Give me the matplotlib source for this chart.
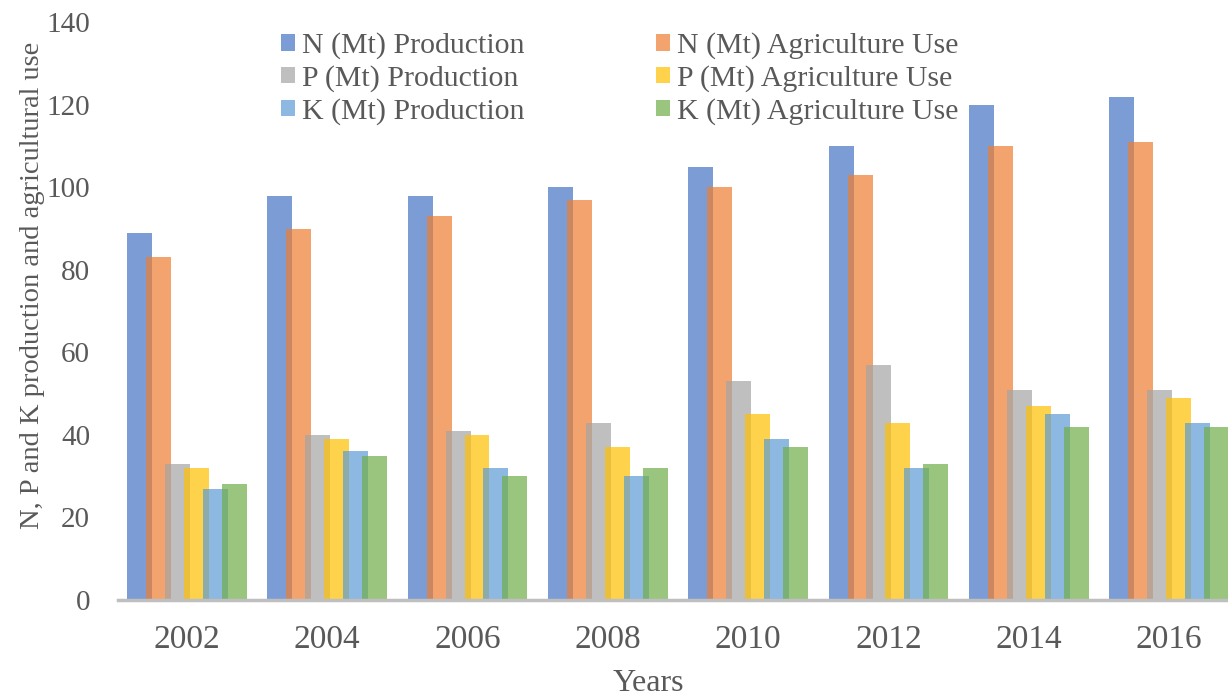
import matplotlib.pyplot as plt
import numpy as np

plt.rcParams['font.family'] = ['Liberation Serif', 'DejaVu Serif']

years = ['2002', '2004', '2006', '2008', '2010', '2012', '2014', '2016']
series = ['N (Mt) Production', 'N (Mt) Agriculture Use',
          'P (Mt) Production', 'P (Mt) Agriculture Use',
          'K (Mt) Production', 'K (Mt) Agriculture Use']
n_prod = [89, 98, 98, 100, 105, 110, 120, 122]
n_use = [83, 90, 93, 97, 100, 103, 110, 111]
p_prod = [33, 40, 41, 43, 53, 57, 51, 51]
p_use = [32, 39, 40, 37, 45, 43, 47, 49]
k_prod = [27, 36, 32, 30, 39, 32, 45, 43]
k_use = [28, 35, 30, 32, 37, 33, 42, 42]
colors = ['#4472C4', '#ED7D31', '#A5A5A5', '#FFC000', '#5B9BD5', '#70AD47']

fig = plt.figure(figsize=(12.28, 6.96), dpi=100)
ax = fig.add_axes([0.096, 0.138, 0.904, 0.83])

x = np.arange(len(years))
step = 0.135
width = 0.178
handles = []
for i, vals in enumerate([n_prod, n_use, p_prod, p_use, k_prod, k_use]):
    b = ax.bar(x + (i - 2.5) * step, vals, width, color=colors[i], alpha=0.7,
               label=series[i], zorder=2)
    handles.append(b)

ax.set_xlim(-0.492, 7.42)
ax.set_ylim(0, 140)
ax.set_yticks(range(0, 141, 20))
ax.set_xticks(x)
ax.set_xticklabels(years)
ax.tick_params(axis='both', length=0, labelcolor='#595959')
ax.tick_params(axis='x', labelsize=24, pad=18)
ax.tick_params(axis='y', labelsize=21, pad=20)
for s in ['top', 'right', 'left']:
    ax.spines[s].set_visible(False)
ax.spines['bottom'].set_color('#BFBFBF')
ax.spines['bottom'].set_linewidth(2.5)
ax.spines['bottom'].set_zorder(3)

ax.set_xlabel('Years', fontsize=23, color='#595959')
ax.xaxis.set_label_coords(0.478, -0.12)
ax.set_ylabel('N, P and K production and agricultural use', fontsize=20.5,
              color='#595959')
ax.yaxis.set_label_coords(-0.066, 0.545)

order = [0, 2, 4, 1, 3, 5]
ax.legend([handles[k] for k in order], [series[k] for k in order], ncol=2,
          loc='upper left', bbox_to_anchor=(0.2166, 0.975),
          bbox_transform=fig.transFigure, frameon=False, borderpad=0,
          fontsize=21.5, labelcolor='#595959', handlelength=0.47,
          handleheight=0.47, handletextpad=0.23, columnspacing=4.4,
          labelspacing=0.2)

fig.savefig('out.png', dpi=100)
